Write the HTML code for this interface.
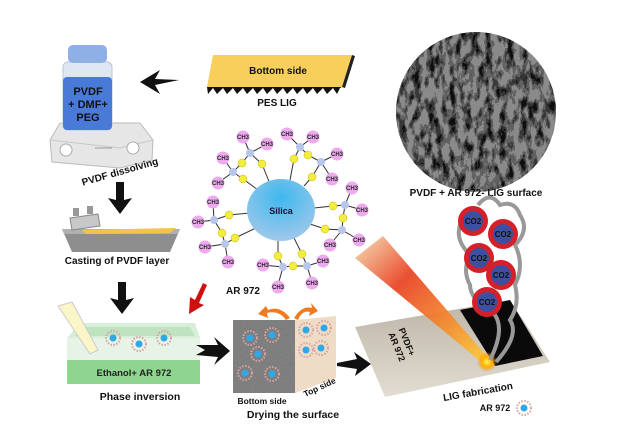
<!DOCTYPE html>
<html><head><meta charset="utf-8"><style>
html,body{margin:0;padding:0;background:#fff;}
svg{display:block;font-family:"Liberation Sans",Arial,sans-serif;font-weight:bold;}
</style></head><body>
<svg width="637" height="426" viewBox="0 0 637 426" xmlns="http://www.w3.org/2000/svg">
<defs>
<filter id="sem" x="0" y="0" width="100%" height="100%">
<feTurbulence type="fractalNoise" baseFrequency="0.14 0.07" numOctaves="4" seed="4"/>
<feColorMatrix type="matrix" values="0 0 0 0 0  0 0 0 0 0  0 0 0 0 0  2.2 0 0 0 -0.75"/>
<feComponentTransfer><feFuncA type="discrete" tableValues="0 0.3 0.6 0.9"/></feComponentTransfer>
</filter>
<filter id="grain" x="0" y="0" width="100%" height="100%">
<feTurbulence type="fractalNoise" baseFrequency="0.6" numOctaves="2" seed="2"/>
<feColorMatrix type="matrix" values="0 0 0 0 0.25  0 0 0 0 0.25  0 0 0 0 0.25  1.2 0 0 0 -0.3"/>
</filter>
<clipPath id="semc"><circle cx="476" cy="112" r="80"/></clipPath>
<clipPath id="dryc"><rect x="233" y="320" width="62" height="73"/></clipPath>
<radialGradient id="sil" cx="0.5" cy="0.3" r="0.7"><stop offset="0" stop-color="#3fb8ee"/><stop offset="1" stop-color="#9fc8ea"/></radialGradient>
<linearGradient id="laser" x1="0" y1="0" x2="1" y2="1"><stop offset="0" stop-color="#f5deb0"/><stop offset="0.35" stop-color="#e84020"/><stop offset="1" stop-color="#ffd23a"/></linearGradient>
<linearGradient id="sheet" x1="0" y1="0" x2="0" y2="1"><stop offset="0" stop-color="#bdb5a6"/><stop offset="1" stop-color="#e2ddd2"/></linearGradient>
<radialGradient id="glow"><stop offset="0" stop-color="#fff36a"/><stop offset="0.5" stop-color="#ffb000"/><stop offset="1" stop-color="#ff8a00" stop-opacity="0"/></radialGradient>
<g id="np"><circle r="7" fill="none" stroke="#d9a3a3" stroke-width="2" stroke-dasharray="1.5 1.5"/><circle r="3.5" fill="#2fa8e8"/></g>
</defs>

<!-- Bottle + hotplate -->
<path d="M50 140 L60 123 L140 123 L153 140 L152 160 L120 168 L52 162 Z" fill="#e6e6e6" stroke="#bbb"/>
<path d="M50 140 L120 148 L153 140" fill="none" stroke="#c8c8c8"/>
<circle cx="66" cy="150" r="6" fill="#fff" stroke="#aaa"/>
<circle cx="133" cy="148" r="6" fill="#fff" stroke="#aaa"/>
<line x1="95" y1="148" x2="112" y2="148" stroke="#999"/>
<rect x="63" y="62" width="49" height="68" rx="5" fill="#dfe8f2" stroke="#b8c6d6"/>
<rect x="68" y="45" width="39" height="18" rx="5" fill="#8fb0e4"/>
<rect x="63" y="77" width="49" height="53" rx="4" fill="#4a7ad8"/>
<text x="88" y="95" font-size="11" text-anchor="middle" fill="#111">PVDF</text>
<text x="88" y="108" font-size="11" text-anchor="middle" fill="#111">+ DMF+</text>
<text x="88" y="121" font-size="11" text-anchor="middle" fill="#111">PEG</text>
<text x="120" y="175" font-size="10" text-anchor="middle" transform="rotate(-16 120 172)" fill="#111">PVDF dissolving</text>

<!-- left arrow -->
<path d="M140 82 L160 70 L155 79 L179 80 L155 85 L160 94 Z" fill="#111"/>

<!-- yellow band -->
<path d="M213 55 L352 55 L342 87 L207 87 Z" fill="#f7cf5a"/>
<path d="M352 55 L355 56 L345 88 L342 87 Z" fill="#222"/>
<path d="M207 87 L342 87 L340 88 L337 94 L333 88 L327 94 L323 88 L317 94 L313 88 L307 94 L303 88 L297 94 L293 88 L287 94 L283 88 L277 94 L273 88 L267 94 L263 88 L257 94 L253 88 L247 94 L243 88 L237 94 L233 88 L227 94 L223 88 L217 94 L213 88 L208 94 Z" fill="#111"/>
<text x="278" y="74" font-size="10" text-anchor="middle" fill="#111">Bottom side</text>
<text x="277" y="106" font-size="10" text-anchor="middle" fill="#111">PES LIG</text>

<!-- SEM circle -->
<circle cx="476" cy="112" r="80" fill="#8a8a8a"/>
<g clip-path="url(#semc)"><rect x="396" y="32" width="160" height="160" filter="url(#sem)"/></g>
<text x="476" y="196" font-size="10" text-anchor="middle" fill="#111">PVDF + AR 972- LIG surface</text>

<!-- down arrows -->
<path d="M116 182 L124 182 L124 200 L132 198 L120 214 L108 198 L116 200 Z" fill="#111"/>
<path d="M118 282 L126 282 L126 300 L134 298 L122 314 L110 298 L118 300 Z" fill="#111"/>

<!-- casting tray -->
<path d="M62 229 L180 229 L170 252 L72 252 Z" fill="#8e8e8e"/>
<path d="M62 229 L180 229 L178 234 L64 234 Z" fill="#b0b0b0"/>
<path d="M82 230 L176 228 L170 233 L86 234 Z" fill="#f3c34b"/>
<path d="M70 218 L98 214 L100 226 L72 230 Z" fill="#c8c8c8" stroke="#888"/>
<rect x="73" y="208" width="6" height="8" fill="#999"/><rect x="87" y="206" width="6" height="8" fill="#999"/>
<text x="117" y="264" font-size="10" text-anchor="middle" fill="#111">Casting of PVDF layer</text>

<!-- Silica molecule -->
<g stroke="#333" stroke-width="1">
<line x1="262" y1="164" x2="270" y2="184"/><line x1="243" y1="179" x2="258" y2="190"/>
<line x1="294" y1="159" x2="290" y2="180"/><line x1="312" y1="177" x2="304" y2="186"/>
<line x1="333" y1="206" x2="314" y2="208"/><line x1="325" y1="229" x2="310" y2="224"/>
<line x1="278" y1="256" x2="278" y2="241"/><line x1="302" y1="254" x2="294" y2="238"/>
<line x1="229" y1="215" x2="250" y2="213"/><line x1="235" y1="238" x2="256" y2="228"/>
<polyline fill="none" points="243,137 250,153 267,144 250,153 262,164 250,153 242,163 233,172 223,158 233,172 218,183 233,172 243,179"/>
<polyline fill="none" points="287,134 300,147 313,137 300,147 294,159 300,147 308,155 321,162 337,154 321,162 332,179 321,162 312,177"/>
<polyline fill="none" points="352,188 345,205 362,210 345,205 333,206 345,205 343,218 342,230 359,240 342,230 330,245 342,230 325,229"/>
<polyline fill="none" points="263,265 283,267 278,256 283,267 278,285 283,267 293,266 307,266 302,254 307,266 323,261 307,266 312,282"/>
<polyline fill="none" points="213,202 214,220 198,222 214,220 229,215 214,220 222,233 225,244 235,238 225,244 205,247 225,244 228,262"/>
</g>
<ellipse cx="281" cy="210" rx="34" ry="31" fill="url(#sil)"/>
<text x="281" y="214" font-size="9" text-anchor="middle" fill="#113">Silica</text>
<g fill="#eeaaee">
<circle cx="243" cy="137" r="6.5"/><circle cx="267" cy="144" r="6.5"/><circle cx="223" cy="158" r="6.5"/><circle cx="218" cy="183" r="6.5"/>
<circle cx="287" cy="134" r="6.5"/><circle cx="313" cy="137" r="6.5"/><circle cx="337" cy="154" r="6.5"/><circle cx="332" cy="179" r="6.5"/>
<circle cx="352" cy="188" r="6.5"/><circle cx="362" cy="210" r="6.5"/><circle cx="359" cy="240" r="6.5"/><circle cx="330" cy="245" r="6.5"/>
<circle cx="263" cy="265" r="6.5"/><circle cx="278" cy="287" r="6.5"/><circle cx="312" cy="283" r="6.5"/><circle cx="323" cy="261" r="6.5"/>
<circle cx="213" cy="202" r="6.5"/><circle cx="198" cy="222" r="6.5"/><circle cx="205" cy="247" r="6.5"/><circle cx="228" cy="262" r="6.5"/>
</g>
<g font-size="6" fill="#222" text-anchor="middle">
<text x="243" y="139">CH3</text><text x="267" y="146">CH3</text><text x="223" y="160">CH3</text><text x="218" y="185">CH3</text>
<text x="287" y="136">CH3</text><text x="313" y="139">CH3</text><text x="337" y="156">CH3</text><text x="332" y="181">CH3</text>
<text x="352" y="190">CH3</text><text x="362" y="212">CH3</text><text x="359" y="242">CH3</text><text x="330" y="247">CH3</text>
<text x="263" y="267">CH3</text><text x="278" y="289">CH3</text><text x="312" y="285">CH3</text><text x="323" y="263">CH3</text>
<text x="213" y="204">CH3</text><text x="198" y="224">CH3</text><text x="205" y="249">CH3</text><text x="228" y="264">CH3</text>
</g>
<g fill="#f2ee40" stroke="#c9b800" stroke-width="0.5">
<circle cx="262" cy="164" r="4"/><circle cx="242" cy="163" r="4"/><circle cx="243" cy="179" r="4"/>
<circle cx="294" cy="159" r="4"/><circle cx="308" cy="155" r="4"/><circle cx="312" cy="177" r="4"/>
<circle cx="333" cy="206" r="4"/><circle cx="343" cy="218" r="4"/><circle cx="325" cy="229" r="4"/>
<circle cx="278" cy="256" r="4"/><circle cx="302" cy="254" r="4"/><circle cx="293" cy="266" r="4"/>
<circle cx="229" cy="215" r="4"/><circle cx="222" cy="233" r="4"/><circle cx="235" cy="238" r="4"/>
</g>
<g fill="#b7c6ea">
<circle cx="250" cy="153" r="4"/><circle cx="233" cy="172" r="4"/><circle cx="300" cy="147" r="4"/><circle cx="321" cy="162" r="4"/>
<circle cx="345" cy="205" r="4"/><circle cx="342" cy="230" r="4"/><circle cx="283" cy="267" r="4"/><circle cx="307" cy="266" r="4"/>
<circle cx="214" cy="220" r="4"/><circle cx="225" cy="244" r="4"/>
</g>
<text x="243" y="294" font-size="10" text-anchor="middle" fill="#111">AR 972</text>

<!-- red arrow -->
<path d="M207 285 L199 303 L204 305 L189 314 L190 297 L195 300 L203 283 Z" fill="#cc1111"/>

<!-- phase inversion tray -->
<path d="M67 338 L80 323 L195 323 L200 338 Z" fill="#d6efd6"/>
<path d="M75 336 L85 327 L190 327 L195 336 Z" fill="#bfe3c0"/>
<rect x="67" y="338" width="133" height="22" fill="#e6f3e6"/>
<rect x="67" y="360" width="133" height="24" fill="#8fd48f"/>
<path d="M58 306 L72 302 L98 350 L90 354 Z" fill="#fbf6c8" stroke="#ccc"/>
<use href="#np" x="113" y="338"/><use href="#np" x="139" y="344"/><use href="#np" x="164" y="338"/>
<text x="134" y="376" font-size="9.5" text-anchor="middle" fill="#222">Ethanol+ AR 972</text>
<text x="140" y="400" font-size="10.5" text-anchor="middle" fill="#111">Phase inversion</text>

<!-- arrow -->
<path d="M196 345 L218 345 L214 337 L230 351 L214 365 L218 357 L196 355 L205 350 Z" fill="#111"/>

<!-- drying block -->
<rect x="233" y="320" width="62" height="73" fill="#7a7a7a"/>
<g clip-path="url(#dryc)"><rect x="233" y="320" width="62" height="73" filter="url(#grain)"/></g>
<path d="M295 320 L336 316 L336 378 L295 393 Z" fill="#efdcc6"/>
<use href="#np" x="250" y="338"/><use href="#np" x="272" y="335"/><use href="#np" x="258" y="354"/><use href="#np" x="245" y="373"/><use href="#np" x="272" y="374"/>
<use href="#np" x="306" y="330"/><use href="#np" x="324" y="328"/><use href="#np" x="306" y="350"/><use href="#np" x="321" y="348"/>
<path d="M290 318 Q280 305 268 310 L266 306 L258 314 L268 318 L267 313 Q279 310 286 320 Z" fill="#f07a20"/>
<path d="M294 318 Q302 305 312 308 L311 303 L318 311 L309 316 L310 312 Q302 310 298 320 Z" fill="#f07a20"/>
<text x="262" y="404" font-size="8.5" text-anchor="middle" fill="#111">Bottom side</text>
<text x="320" y="390" font-size="8.5" text-anchor="middle" transform="rotate(-25 320 388)" fill="#111">Top side</text>
<text x="293" y="418" font-size="10.5" text-anchor="middle" fill="#111">Drying the surface</text>

<!-- arrow -->
<path d="M337 363 L357 359 L354 352 L371 364 L355 376 L357 369 L337 366 Z" fill="#111"/>

<!-- LIG sheet -->
<path d="M355 327 L510 300 L550 362 L385 397 Z" fill="url(#sheet)"/>
<path d="M460 310 L510 300 L543 356 L495 366 Z" fill="#0a0a0a"/>
<text x="404" y="343" font-size="9" text-anchor="middle" transform="rotate(68 404 343)" fill="#111">PVDF+</text>
<text x="394" y="348" font-size="9" text-anchor="middle" transform="rotate(68 394 348)" fill="#111">AR 972</text>
<path d="M355 258 L383 236 L490 360 L485 365 Z" fill="url(#laser)" opacity="0.92"/>
<circle cx="487" cy="362" r="10" fill="url(#glow)"/>
<g fill="none" stroke="#999" stroke-width="4">
<path d="M490 360 Q505 330 495 315 Q470 300 470 285 Q462 270 470 255 Q455 240 460 225 Q462 205 480 210"/>
<path d="M496 362 Q520 335 510 320 Q520 305 515 285 Q525 265 515 245 Q530 230 520 215 Q515 200 500 205 Q490 190 478 205"/>
</g>
<g>
<circle cx="473" cy="221" r="15" fill="#d4202a"/><circle cx="473" cy="221" r="10" fill="#3d4fa0"/>
<circle cx="503" cy="234" r="15" fill="#d4202a"/><circle cx="503" cy="234" r="10" fill="#3d4fa0"/>
<circle cx="479" cy="258" r="15" fill="#d4202a"/><circle cx="479" cy="258" r="10" fill="#3d4fa0"/>
<circle cx="501" cy="275" r="15" fill="#d4202a"/><circle cx="501" cy="275" r="10" fill="#3d4fa0"/>
<circle cx="487" cy="302" r="15" fill="#d4202a"/><circle cx="487" cy="302" r="10" fill="#3d4fa0"/>
</g>
<g font-size="8" fill="#111" text-anchor="middle">
<text x="473" y="224">CO2</text><text x="503" y="237">CO2</text><text x="479" y="261">CO2</text><text x="501" y="278">CO2</text><text x="487" y="305">CO2</text>
</g>
<text x="478" y="395" font-size="10" text-anchor="middle" transform="rotate(-10 478 392)" fill="#111">LIG fabrication</text>
<text x="495" y="411" font-size="9" text-anchor="middle" fill="#111">AR 972</text>
<use href="#np" x="524" y="408"/>
</svg>
</body></html>
